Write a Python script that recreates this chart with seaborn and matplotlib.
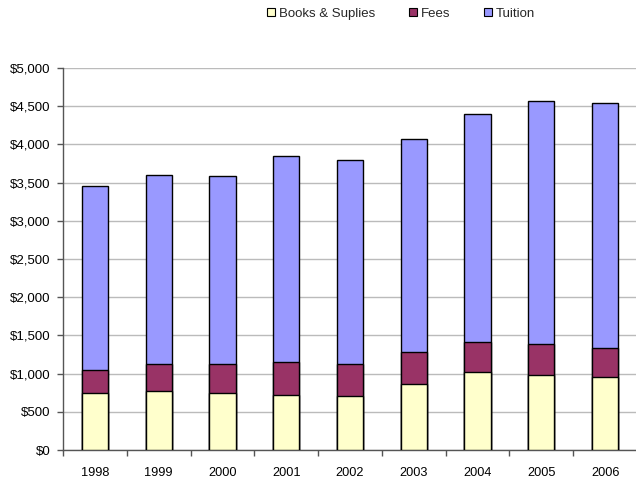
import matplotlib
matplotlib.use("Agg")
import matplotlib.pyplot as plt
import seaborn as sns
import pandas as pd
import numpy as np
from matplotlib.patches import Patch
from matplotlib.ticker import FuncFormatter, FixedLocator

years = ["1998", "1999", "2000", "2001", "2002", "2003", "2004", "2005", "2006"]
books = [740, 770, 745, 720, 710, 870, 1020, 985, 950]
fees = [305, 350, 375, 430, 415, 415, 400, 400, 385]
tuition = [2410, 2480, 2465, 2700, 2670, 2785, 2980, 3185, 3205]

series_names = ["Books & Suplies", "Fees", "Tuition"]
colors = ["#FFFFCC", "#993366", "#9999FF"]

sns.set_theme(style="white")
plt.rcParams["font.family"] = ["Liberation Sans", "DejaVu Sans"]

df = pd.DataFrame({"year": years, "books": books, "fees": fees, "tuition": tuition})
df["lvl1"] = df["books"]
df["lvl2"] = df["books"] + df["fees"]
df["lvl3"] = df["books"] + df["fees"] + df["tuition"]

fig = plt.figure(figsize=(6.36, 4.78), dpi=100)
ax = fig.add_axes([63 / 636, 1 - 450 / 478, 574 / 636, 382 / 478])

# stacked bars drawn as cumulative totals, back to front
for col, color in zip(["lvl3", "lvl2", "lvl1"], colors[::-1]):
    sns.barplot(data=df, x="year", y=col, color=color, width=0.41,
                edgecolor="black", linewidth=1.0, saturation=1, ax=ax, zorder=3)

ax.set_ylim(0, 5000)
ax.set_xlim(-0.5, len(years) - 0.5)
ax.set_yticks(np.arange(0, 5001, 500))
ax.yaxis.set_major_formatter(FuncFormatter(lambda v, p: f"${v:,.0f}"))
ax.set_xlabel("")
ax.set_ylabel("")
ax.grid(axis="y", color="#BBBBBB", linewidth=1.0, zorder=0)
ax.set_axisbelow(True)

for s in ["top", "right"]:
    ax.spines[s].set_visible(False)
for s in ["left", "bottom"]:
    ax.spines[s].set_color("#555555")
    ax.spines[s].set_linewidth(1.0)

ax.tick_params(axis="y", which="major", left=True, length=4, width=1,
               color="#555555", labelsize=9.5, pad=5, labelcolor="black")
ax.tick_params(axis="x", which="major", bottom=False, labelsize=9.2,
               pad=6.5, labelcolor="black")
ax.xaxis.set_minor_locator(FixedLocator(np.arange(-0.5, len(years), 1.0)))
ax.tick_params(axis="x", which="minor", bottom=True, length=4, width=1,
               color="#555555")

handles = [Patch(facecolor=c, edgecolor="black", linewidth=0.8) for c in colors]
fig.legend(handles, series_names, loc="upper left", bbox_to_anchor=(259 / 636, 1.0),
           ncol=3, frameon=False, fontsize=9.5, handlelength=0.6, handleheight=0.6,
           handletextpad=0.35, columnspacing=2.5, borderaxespad=0.2)

fig.savefig("out.png", dpi=100, facecolor="white")
